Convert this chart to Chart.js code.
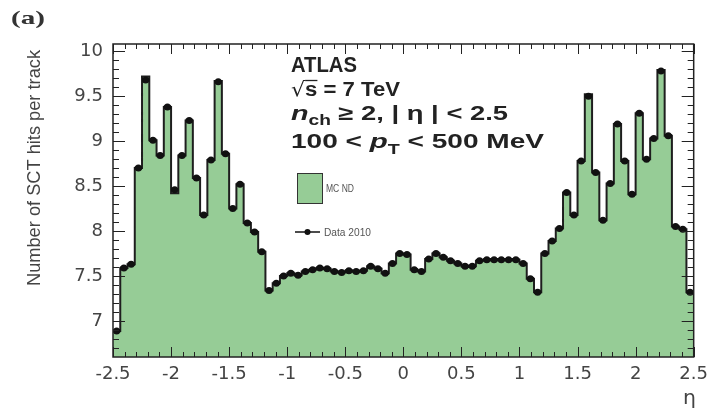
<!DOCTYPE html>
<html>
<head>
<meta charset="utf-8">
<script src="https://cdn.jsdelivr.net/npm/chart.js@4.4.1/dist/chart.umd.min.js"></script>
<style>
  body { margin: 0; background: #fff; }
</style>
</head>
<body>
<canvas id="sctChart" width="715" height="411"></canvas>
<script>
// eta binning: 80 bins from -2.5 to 2.5
const etaMin = -2.5;
const binWidth = 0.0625;

// Data 2010, mean number of SCT hits per track in each eta bin
const dataValues = [
  6.89, 7.59, 7.63, 8.70, 9.68, 9.01, 8.84, 9.38, 8.46, 8.84,
  9.23, 8.59, 8.18, 8.79, 9.66, 8.86, 8.25, 8.52, 8.09, 7.99,
  7.77, 7.34, 7.42, 7.50, 7.53, 7.51, 7.55, 7.57, 7.59, 7.58,
  7.55, 7.54, 7.56, 7.55, 7.56, 7.61, 7.58, 7.53, 7.64, 7.75,
  7.74, 7.57, 7.55, 7.69, 7.75, 7.71, 7.67, 7.64, 7.61, 7.61,
  7.67, 7.68, 7.68, 7.68, 7.68, 7.68, 7.64, 7.47, 7.32, 7.75,
  7.89, 8.03, 8.43, 8.18, 8.78, 9.50, 8.65, 8.12, 8.53, 9.19,
  8.78, 8.41, 9.31, 8.80, 9.03, 9.78, 9.06, 8.05, 8.02, 7.32
];

// MC ND histogram
const mcValues = [
  6.89, 7.59, 7.63, 8.70, 9.72, 9.01, 8.84, 9.38, 8.42, 8.84,
  9.23, 8.59, 8.18, 8.79, 9.67, 8.86, 8.25, 8.52, 8.09, 7.99,
  7.77, 7.34, 7.42, 7.50, 7.53, 7.51, 7.55, 7.57, 7.59, 7.58,
  7.55, 7.54, 7.56, 7.55, 7.56, 7.61, 7.58, 7.53, 7.64, 7.75,
  7.74, 7.57, 7.55, 7.69, 7.75, 7.71, 7.67, 7.64, 7.61, 7.61,
  7.67, 7.68, 7.68, 7.68, 7.68, 7.68, 7.64, 7.47, 7.32, 7.75,
  7.89, 8.03, 8.43, 8.18, 8.78, 9.52, 8.65, 8.12, 8.53, 9.19,
  8.78, 8.41, 9.31, 8.80, 9.03, 9.79, 9.06, 8.05, 8.02, 7.32
];

const xTicks = [-2.5, -2, -1.5, -1, -0.5, 0, 0.5, 1, 1.5, 2, 2.5];
const yTicks = [7, 7.5, 8, 8.5, 9, 9.5, 10];

const mcGreen = '#96cc96';

// MC as step histogram (points on left bin edges + closing point)
const mcPoints = mcValues.map((v, i) => ({ x: etaMin + i * binWidth, y: v }));
mcPoints.push({ x: etaMin + mcValues.length * binWidth, y: mcValues[mcValues.length - 1] });

// data horizontal bars (bin width) and markers at bin centres
const dataBars = dataValues.flatMap((v, i) => [
  { x: etaMin + i * binWidth, y: v },
  { x: etaMin + (i + 1) * binWidth, y: v },
  { x: etaMin + (i + 1) * binWidth, y: null }
]);
const dataPoints = dataValues.map((v, i) => ({ x: etaMin + (i + 0.5) * binWidth, y: v }));

// frame + inside ticks like ROOT
const frameTicks = {
  id: 'frameTicks',
  afterDatasetsDraw(chart) {
    const { ctx, chartArea: a, scales: { x, y } } = chart;
    ctx.save();
    ctx.strokeStyle = '#222';
    ctx.lineWidth = 1;
    ctx.beginPath();
    for (let k = -25; k <= 25; k++) {
      const px = Math.round(x.getPixelForValue(k / 10)) + 0.5;
      const len = k % 5 === 0 ? 10 : 5;
      ctx.moveTo(px, a.bottom); ctx.lineTo(px, a.bottom - len);
      ctx.moveTo(px, a.top); ctx.lineTo(px, a.top + len);
    }
    for (let k = 67; k <= 100; k++) {
      const py = Math.round(y.getPixelForValue(k / 10)) + 0.5;
      const len = k % 5 === 0 ? 12 : 6;
      ctx.moveTo(a.left, py); ctx.lineTo(a.left + len, py);
      ctx.moveTo(a.right, py); ctx.lineTo(a.right - len, py);
    }
    ctx.stroke();
    ctx.lineWidth = 1.5;
    ctx.strokeRect(a.left, a.top, a.right - a.left, a.bottom - a.top);
    ctx.restore();
  }
};

// draw text made of runs, squeezed/stretched to a width
function drawRuns(ctx, runs, x, y, width) {
  let total = 0;
  runs.forEach(r => { ctx.font = r.font; r.w = ctx.measureText(r.text).width; total += r.w; });
  const sx = width ? width / total : 1;
  ctx.save();
  ctx.translate(x, y);
  ctx.scale(sx, 1);
  let cx = 0;
  runs.forEach(r => {
    ctx.font = r.font;
    ctx.fillText(r.text, cx, r.dy || 0);
    r.x0 = cx * sx;
    cx += r.w;
  });
  ctx.restore();
  return runs;
}

const labels = {
  id: 'labels',
  afterDraw(chart) {
    const ctx = chart.ctx;
    ctx.save();
    ctx.textBaseline = 'alphabetic';
    ctx.textAlign = 'left';

    // (a)
    ctx.fillStyle = '#333';
    drawRuns(ctx, [{ text: '(a)', font: 'bold 19px "Liberation Serif"' }], 11, 24, 34);

    // y title
    ctx.fillStyle = '#444';
    ctx.save();
    ctx.translate(40, 168);
    ctx.rotate(-Math.PI / 2);
    drawRuns(ctx, [{ text: 'Number of SCT hits per track', font: '19px "Liberation Sans"' }], -118, 0, 236);
    ctx.restore();

    // eta label
    ctx.fillStyle = '#444';
    drawRuns(ctx, [{ text: 'η', font: '19px "DejaVu Sans"' }], 683, 404, 13);

    // ATLAS block
    ctx.fillStyle = '#222';
    drawRuns(ctx, [{ text: 'ATLAS', font: 'bold 22px "Liberation Sans"' }], 291, 72, 66);

    const r2 = drawRuns(ctx, [
      { text: '√', font: '20px "DejaVu Sans"' },
      { text: 's', font: 'bold 20px "Liberation Sans"' },
      { text: ' = 7 TeV', font: 'bold 20px "Liberation Sans"' }
    ], 291, 96, 109);
    // overline of the root sign
    ctx.strokeStyle = '#222';
    ctx.lineWidth = 1.3;
    ctx.beginPath();
    ctx.moveTo(291 + r2[1].x0, 80.5);
    ctx.lineTo(291 + r2[2].x0, 80.5);
    ctx.stroke();

    drawRuns(ctx, [
      { text: 'n', font: 'italic bold 21px "Liberation Sans"' },
      { text: 'ch', font: 'bold 14px "Liberation Sans"', dy: 5 },
      { text: ' ≥ 2, | η | < 2.5', font: 'bold 20px "Liberation Sans"' }
    ], 291, 120, 217);

    drawRuns(ctx, [
      { text: '100 < ', font: 'bold 20px "Liberation Sans"' },
      { text: 'p', font: 'italic bold 21px "Liberation Sans"' },
      { text: 'T', font: 'bold 14px "Liberation Sans"', dy: 6 },
      { text: ' < 500 MeV', font: 'bold 20px "Liberation Sans"' }
    ], 291, 148, 253);

    // legend: MC ND box
    ctx.fillStyle = mcGreen;
    ctx.fillRect(297, 173, 25, 30);
    ctx.strokeStyle = '#333';
    ctx.lineWidth = 1;
    ctx.strokeRect(297.5, 173.5, 25, 30);
    ctx.fillStyle = '#555';
    drawRuns(ctx, [{ text: 'MC ND', font: '11px "Liberation Sans"' }], 326, 192, 28);

    // legend: data
    ctx.strokeStyle = '#111';
    ctx.lineWidth = 1.5;
    ctx.beginPath();
    ctx.moveTo(295, 232); ctx.lineTo(320, 232);
    ctx.stroke();
    ctx.fillStyle = '#111';
    ctx.beginPath();
    ctx.arc(307.5, 232, 3, 0, Math.PI * 2);
    ctx.fill();
    ctx.fillStyle = '#555';
    drawRuns(ctx, [{ text: 'Data 2010', font: '11px "Liberation Sans"' }], 324, 236, 47);

    ctx.restore();
  }
};

const ctx = document.getElementById('sctChart').getContext('2d');
const chart = new Chart(ctx, {
  type: 'line',
  data: {
    datasets: [
      {
        label: 'Data 2010',
        data: dataPoints,
        showLine: false,
        pointRadius: 3.5,
        pointBackgroundColor: '#111',
        pointBorderWidth: 0,
        order: 0
      },
      {
        label: 'Data bars',
        data: dataBars,
        borderColor: '#111',
        borderWidth: 3.5,
        pointRadius: 0,
        spanGaps: false,
        order: 1
      },
      {
        label: 'MC ND',
        data: mcPoints,
        stepped: true,
        borderColor: '#1e1e1e',
        borderWidth: 2,
        backgroundColor: mcGreen,
        fill: 'start',
        pointRadius: 0,
        order: 2
      }
    ]
  },
  options: {
    responsive: false,
    animation: false,
    layout: { padding: { top: 44, right: 18, left: 0, bottom: 0 } },
    plugins: {
      legend: { display: false },
      tooltip: { enabled: false }
    },
    scales: {
      x: {
        type: 'linear',
        min: -2.5,
        max: 2.5,
        grid: { display: false, drawTicks: false },
        border: { display: false },
        afterBuildTicks: s => { s.ticks = xTicks.map(v => ({ value: v })); },
        afterFit: s => { s.height = 411 - 357; },
        ticks: {
          padding: 7,
          color: '#444',
          font: { family: 'DejaVu Sans', size: 18 },
          callback: v => String(v)
        }
      },
      y: {
        min: 6.6,
        max: 10.08,
        grid: { display: false, drawTicks: false },
        border: { display: false },
        afterBuildTicks: s => { s.ticks = yTicks.map(v => ({ value: v })); },
        afterFit: s => { s.width = 113; },
        ticks: {
          padding: 10,
          color: '#444',
          font: { family: 'DejaVu Sans', size: 18 },
          callback: v => String(v)
        }
      }
    }
  },
  plugins: [frameTicks, labels]
});
</script>
</body>
</html>
